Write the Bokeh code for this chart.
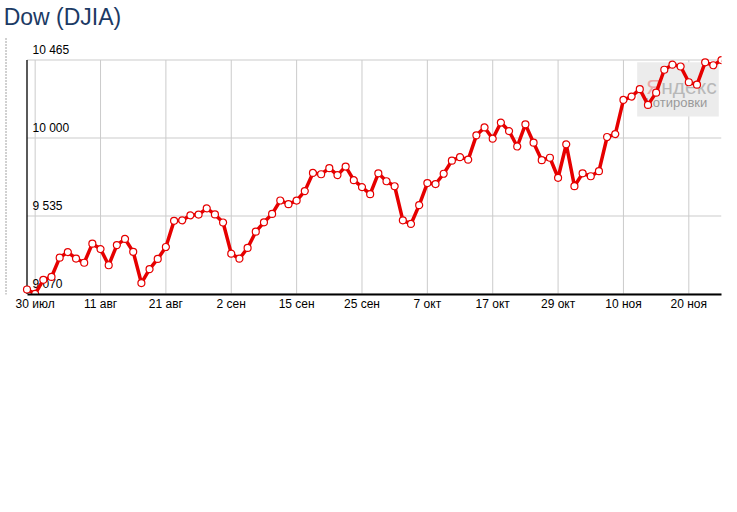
import math
from bokeh.plotting import figure
from bokeh.models import Range1d, FixedTicker
from bokeh.embed import file_html
from bokeh.resources import INLINE
from bokeh.core.properties import value

# ---- data (Dow Jones Industrial Average, daily closes) ----
title_text = "Dow (DJIA)"
values = [
    9096.72, 9070.72, 9154.46, 9171.61, 9286.56, 9320.19, 9280.97, 9256.26, 9370.07, 9337.95,
    9241.45, 9361.61, 9398.19, 9321.40, 9135.34, 9217.94, 9279.16, 9350.05, 9505.96, 9509.28,
    9539.29, 9543.52, 9580.63, 9544.20, 9496.28, 9310.60, 9280.67, 9344.61, 9441.27, 9497.34,
    9547.22, 9627.48, 9605.41, 9626.80, 9683.41, 9791.71, 9783.92, 9820.20, 9778.86, 9829.87,
    9748.55, 9707.44, 9665.19, 9789.36, 9742.20, 9712.28, 9509.28, 9487.67, 9599.75, 9731.25,
    9725.58, 9786.87, 9864.94, 9885.80, 9871.06, 10015.86, 10062.94, 9995.91, 10092.19, 10041.48,
    9949.36, 10081.31, 9972.18, 9867.96, 9882.17, 9762.86, 9962.58, 9712.73, 9789.44, 9771.91,
    9802.14, 10005.96, 10023.42, 10226.94, 10246.97, 10291.26, 10197.47, 10270.47, 10406.96, 10437.42,
    10426.31, 10332.44, 10318.16, 10450.95, 10433.71, 10464.40,
]
tick_index = [1, 9, 17, 25, 33, 41, 49, 57, 65, 73, 81]
tick_labels = ["30 июл", "11 авг", "21 авг", "2 сен", "15 сен", "25 сен",
               "7 окт", "17 окт", "29 окт", "10 ноя", "20 ноя"]
watermark_word = ["Я", "ндекс"]
watermark_sub = "Котировки"

# ---- derived ----
n = len(values)
idx = list(range(n))
y_lo = math.floor(min(values) / 5) * 5
y_hi = math.ceil(max(values) / 5) * 5
y_ticks = [y_lo + k * (y_hi - y_lo) / 3 for k in range(4)]


def fmt(v):
    return f"{int(round(v)):,}".replace(",", " ")


FONT = value("Liberation Sans")
RED = "#e60000"
GRID = "#cbcbcb"

# ---- layout (pixels) ----
W, H = 729, 322
BR, BB = 8, 28
FW, FH = W - BR, H - BB            # plot frame covers the canvas from its top-left corner
LEFT_PX, RIGHT_PX = 26.5, 721.0    # where the first / last day sit
TOP_PX, BOT_PX = 59.5, 293.5       # where the max / min of the value scale sit

sx = (RIGHT_PX - LEFT_PX) / (n - 1)
sy = (BOT_PX - TOP_PX) / (y_hi - y_lo)
x_start = 0 - LEFT_PX / sx
x_end = (n - 1) + (FW - RIGHT_PX) / sx
y_start = y_lo - (FH - BOT_PX) / sy
y_end = y_hi + TOP_PX / sy


def px2x(px):
    return x_start + px / sx


def px2y(py):
    return y_end - py / sy


p = figure(width=W, height=H,
           x_range=Range1d(x_start, x_end), y_range=Range1d(y_start, y_end),
           y_axis_location=None,
           output_backend="svg", toolbar_location=None,
           min_border_left=0, min_border_right=BR, min_border_top=0, min_border_bottom=BB)
p.outline_line_color = None
p.background_fill_color = "white"
p.border_fill_color = "white"
p.grid.visible = False

# x axis (real axis, limited to the data span)
xa = p.xaxis[0]
xa.bounds = (0, n - 1)
xa.ticker = FixedTicker(ticks=tick_index)
xa.major_label_overrides = {i: lbl for i, lbl in zip(tick_index, tick_labels)}
xa.axis_line_color = "black"
xa.axis_line_width = 2
xa.major_tick_line_color = None
xa.minor_tick_line_color = None
xa.major_tick_out = 0
xa.major_tick_in = 0
xa.major_label_standoff = 2
xa.major_label_text_font = "Liberation Sans"
xa.major_label_text_font_size = "12px"
xa.major_label_text_color = "black"

# grid lines, restricted to the data area
p.segment(x0=tick_index, y0=[y_lo] * len(tick_index), x1=tick_index, y1=[y_hi] * len(tick_index),
          line_color=GRID, line_width=1)
p.segment(x0=[0] * len(y_ticks), y0=y_ticks, x1=[n - 1] * len(y_ticks), y1=y_ticks,
          line_color=GRID, line_width=1)

# left axis line
p.segment(x0=[0], y0=[y_lo], x1=[0], y1=[y_hi], line_color="black", line_width=1.3)

# dotted page border on the far left
p.segment(x0=[px2x(5.5)], y0=[px2y(38)], x1=[px2x(5.5)], y1=[y_start],
          line_color="#444444", line_width=1, line_dash="1 2")

# title
p.text(x=[x_start], y=[y_end], text=[title_text], x_offset=3.2, y_offset=16,
       text_baseline="alphabetic", text_align="left", text_line_height=1.0,
       text_font=FONT, text_font_size="23px", text_color="#1c3a64")

# y tick labels inside the plot, above their grid lines
p.text(x=[0] * len(y_ticks), y=y_ticks, text=[fmt(t) for t in y_ticks],
       x_offset=5.5, y_offset=-10, text_baseline="alphabetic", text_align="left",
       text_line_height=1.0,
       text_font=FONT, text_font_size="12px", text_color="black")

# watermark (decoration)
wm_l, wm_r, wm_t, wm_b = px2x(636.7), px2x(718.3), px2y(61.7), px2y(116)
p.quad(left=[wm_l], right=[wm_r], top=[wm_t], bottom=[wm_b],
       fill_color="#ececec", line_color=None)
p.text(x=[wm_l], y=[wm_t], text=[watermark_word[0]], x_offset=9, y_offset=24,
       text_baseline="alphabetic", text_line_height=1.0,
       text_font=FONT, text_font_size="21px", text_color="#eaa8a8")
p.text(x=[wm_l], y=[wm_t], text=[watermark_word[1]], x_offset=24, y_offset=24,
       text_baseline="alphabetic", text_line_height=1.0,
       text_font=FONT, text_font_size="21px", text_color="#b8b8b8")
p.text(x=[wm_l], y=[wm_t], text=[watermark_sub], x_offset=8, y_offset=40.5,
       text_baseline="alphabetic", text_line_height=1.0,
       text_font=FONT, text_font_size="13px", text_color="#9a9a9a")

# series
p.line(idx, values, line_color=RED, line_width=3.5, line_join="round")
p.scatter(idx, values, size=7, fill_color="white", line_color=RED, line_width=1.2)

open("out.html", "w").write(file_html(p, INLINE))
